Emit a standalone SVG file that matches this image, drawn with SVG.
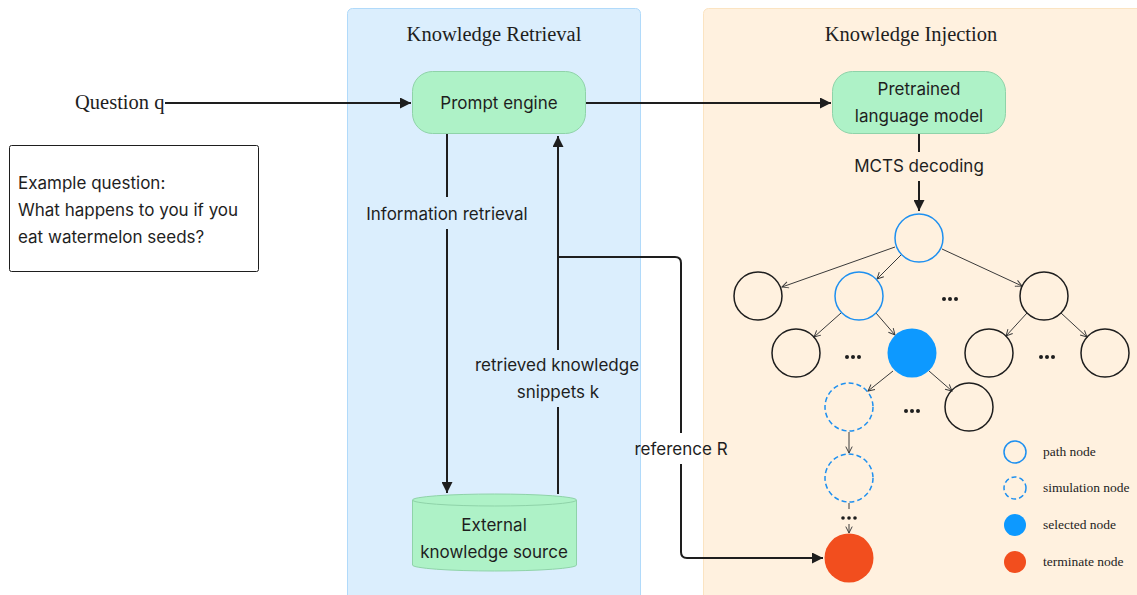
<svg xmlns="http://www.w3.org/2000/svg" width="1137" height="595" viewBox="0 0 1137 595">
<style>
.serif{font-family:"Liberation Serif","DejaVu Serif",serif;fill:#1e1e1e}
.sans{font-family:Inter,"Liberation Sans",sans-serif;fill:#1e1e1e;font-size:17px}
.green{fill:#aef2c7;stroke:#8fd3a9;stroke-width:1}
.conn{fill:none;stroke:#1e1e1e;stroke-width:2}
.edge{fill:none;stroke:#3a3a3a;stroke-width:1;marker-end:url(#open)}
.tn{fill:none;stroke:#1e1e1e;stroke-width:1.5}
.pn{fill:none;stroke:#1e90f0;stroke-width:1.5}
.sn{fill:none;stroke:#1e90f0;stroke-width:1.5;stroke-dasharray:5 3}
.dot{fill:#1e1e1e}
.leg{font-family:"Liberation Serif","DejaVu Serif",serif;font-size:13.5px;fill:#1e1e1e}
</style>
<defs>
<marker id="arr" viewBox="0 0 10 10" refX="10" refY="5" markerWidth="5.5" markerHeight="5.5" orient="auto" markerUnits="strokeWidth">
<path d="M0,0 L10,5 L0,10 z" fill="#1e1e1e"/>
</marker>
<marker id="open" viewBox="0 0 10 10" refX="9" refY="5" markerWidth="8" markerHeight="8" orient="auto" markerUnits="strokeWidth">
<path d="M1,1 L9,5 L1,9" fill="none" stroke="#3a3a3a" stroke-width="1.2"/>
</marker>
</defs>
<rect width="1137" height="595" fill="#ffffff"/>
<g id="panel-retrieval">
<rect x="347.5" y="8.5" width="293" height="600" rx="5" fill="#dbeefd" stroke="#b1dafa"/>
<text class="serif" x="494" y="41" font-size="20.5" text-anchor="middle">Knowledge Retrieval</text>
</g>
<g id="panel-injection">
<rect x="703.5" y="8.5" width="450" height="600" rx="5" fill="#fff1df" stroke="#fbe4c2"/>
<text class="serif" x="911" y="41" font-size="20.5" text-anchor="middle">Knowledge Injection</text>
</g>
<g id="question">
<text class="serif" x="75" y="109" font-size="20.5">Question q</text>
</g>
<g id="example">
<rect x="9.5" y="145.5" width="249" height="126" rx="2" fill="#ffffff" stroke="#1e1e1e" stroke-width="1"/>
<text class="sans" x="18" y="189">Example question:</text>
<text class="sans" x="18" y="216">What happens to you if you</text>
<text class="sans" x="18" y="243">eat watermelon seeds?</text>
</g>
<g id="prompt-engine">
<rect class="green" x="412.5" y="71.5" width="173" height="62" rx="20"/>
<text class="sans" x="499" y="109" text-anchor="middle">Prompt engine</text>
</g>
<g id="plm">
<rect class="green" x="832.5" y="71.5" width="173" height="62" rx="20"/>
<text class="sans" x="919" y="95" text-anchor="middle">Pretrained</text>
<text class="sans" x="919" y="122" text-anchor="middle">language model</text>
</g>
<g id="knowledge-source">
<path class="green" d="M412.5,500 L412.5,565 A82,6 0 0 0 576.5,565 L576.5,500"/>
<ellipse class="green" cx="494.5" cy="500" rx="82" ry="6"/>
<text class="sans" x="494" y="531" text-anchor="middle">External</text>
<text class="sans" x="494" y="558" text-anchor="middle">knowledge source</text>
</g>
<g id="connectors">
<line class="conn" x1="165" y1="103" x2="411" y2="103" marker-end="url(#arr)"/>
<line class="conn" x1="586" y1="103" x2="831" y2="103" marker-end="url(#arr)"/>
<line class="conn" x1="447" y1="134" x2="447" y2="197"/>
<text class="sans" x="447" y="220" text-anchor="middle">Information retrieval</text>
<line class="conn" x1="447" y1="229" x2="447" y2="493" marker-end="url(#arr)"/>
<line class="conn" x1="558" y1="494" x2="558" y2="407"/>
<text class="sans" x="557" y="371" text-anchor="middle">retrieved knowledge</text>
<text class="sans" x="558" y="398" text-anchor="middle">snippets k</text>
<line class="conn" x1="558" y1="350" x2="558" y2="136" marker-end="url(#arr)"/>
<path class="conn" d="M558,257 L675,257 Q681,257 681,263 L681,433"/>
<text class="sans" x="681" y="455" text-anchor="middle">reference R</text>
<path class="conn" d="M681,464 L681,552 Q681,558 687,558 L823,558" marker-end="url(#arr)"/>
<line class="conn" x1="919" y1="134" x2="919" y2="152"/>
<text class="sans" x="919" y="172" text-anchor="middle">MCTS decoding</text>
<line class="conn" x1="919" y1="181" x2="919" y2="211" marker-end="url(#arr)"/>
<line class="edge" x1="895" y1="247" x2="782" y2="287"/>
<line class="edge" x1="901" y1="255" x2="877" y2="279"/>
<line class="edge" x1="942" y1="249" x2="1022" y2="286"/>
<line class="edge" x1="841" y1="313" x2="814" y2="337"/>
<line class="edge" x1="876" y1="313" x2="895" y2="335"/>
<line class="edge" x1="1027" y1="313" x2="1006" y2="336"/>
<line class="edge" x1="1061" y1="313" x2="1087" y2="337"/>
<line class="edge" x1="893" y1="371" x2="868" y2="391"/>
<line class="edge" x1="929" y1="371" x2="952" y2="391"/>
<line class="edge" x1="849" y1="432" x2="849" y2="453"/>
<line x1="849" y1="503" x2="849" y2="509" stroke="#3a3a3a" stroke-width="1"/>
<line class="edge" x1="849" y1="524" x2="849" y2="533"/>
</g>
<g id="tree">
<circle class="pn" cx="919" cy="238" r="24"/>
<circle class="tn" cx="758" cy="296" r="24"/>
<circle class="pn" cx="859" cy="296" r="24"/>
<circle class="tn" cx="1044" cy="296" r="24"/>
<circle class="tn" cx="796" cy="353" r="24"/>
<circle cx="912" cy="353" r="24.5" fill="#0d99ff"/>
<circle class="tn" cx="989" cy="353" r="24"/>
<circle class="tn" cx="1105" cy="353" r="24"/>
<circle class="sn" cx="849" cy="407" r="24"/>
<circle class="tn" cx="969" cy="407" r="24"/>
<circle class="sn" cx="849" cy="478" r="24"/>
<circle cx="849" cy="558" r="24.5" fill="#f24e1e"/>
<g class="dot">
<circle cx="944" cy="299" r="2"/><circle cx="950" cy="299" r="2"/><circle cx="956" cy="299" r="2"/>
<circle cx="847" cy="357" r="2"/><circle cx="853" cy="357" r="2"/><circle cx="859" cy="357" r="2"/>
<circle cx="1041" cy="357" r="2"/><circle cx="1047" cy="357" r="2"/><circle cx="1053" cy="357" r="2"/>
<circle cx="906" cy="411" r="2"/><circle cx="912" cy="411" r="2"/><circle cx="918" cy="411" r="2"/>
<circle cx="843" cy="518" r="1.8"/><circle cx="849" cy="518" r="1.8"/><circle cx="855" cy="518" r="1.8"/>
</g>
</g>
<g id="legend">
<circle class="pn" cx="1015" cy="452" r="11"/>
<text class="leg" x="1043" y="456">path node</text>
<circle class="sn" cx="1015" cy="488" r="11" stroke-dasharray="4 2.5"/>
<text class="leg" x="1043" y="492">simulation node</text>
<circle cx="1015" cy="525" r="11" fill="#0d99ff"/>
<text class="leg" x="1043" y="529">selected node</text>
<circle cx="1015" cy="562" r="11" fill="#f24e1e"/>
<text class="leg" x="1043" y="566">terminate node</text>
</g>
</svg>
